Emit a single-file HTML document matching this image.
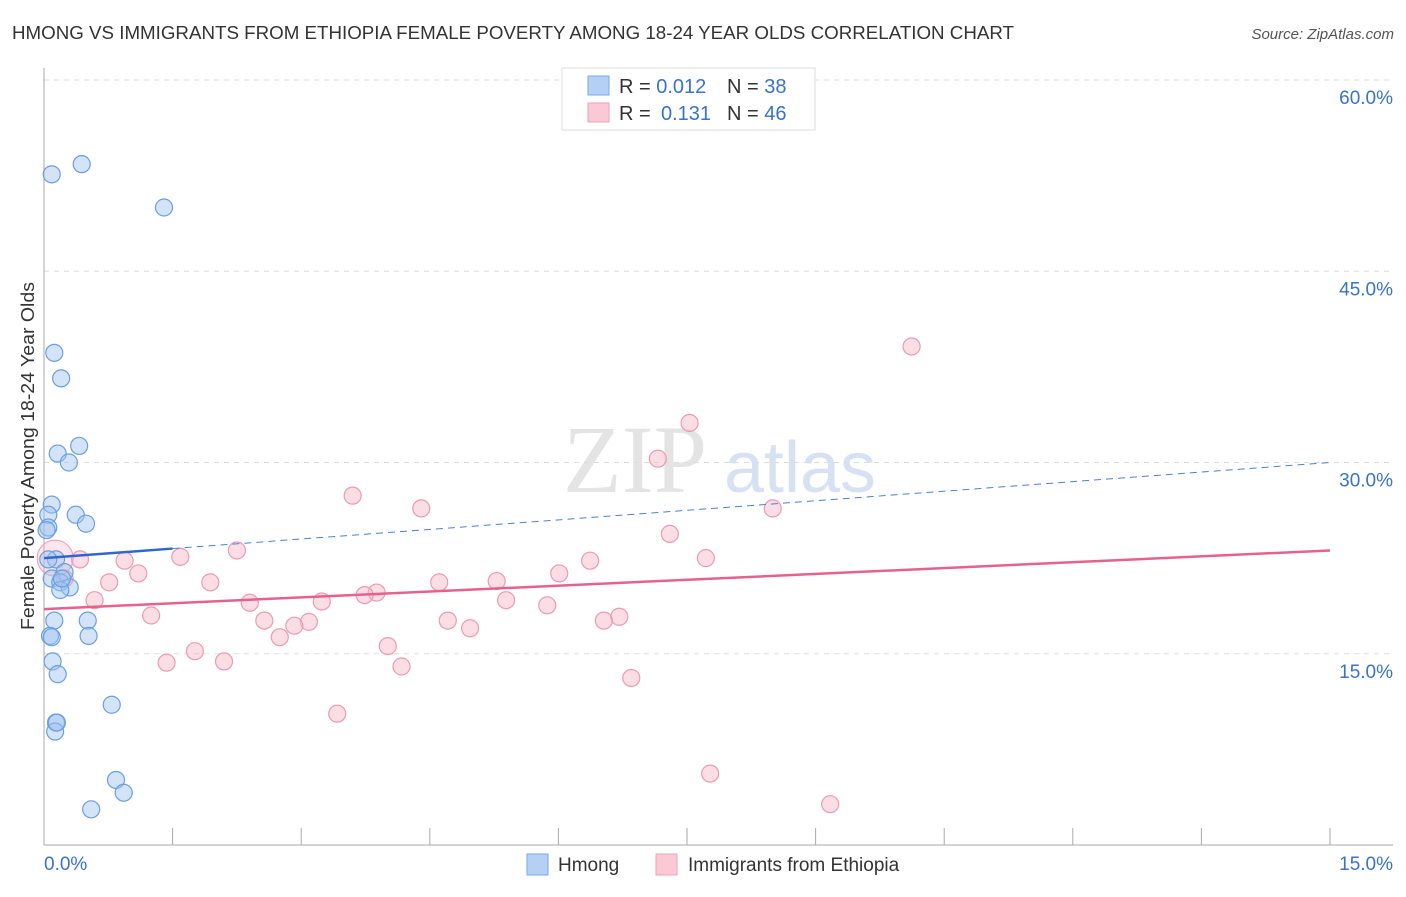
<!DOCTYPE html>
<html><head><meta charset="utf-8"><style>
body{margin:0;background:#fff;font-family:"Liberation Sans",sans-serif;}
</style></head><body>
<svg id="c" width="1406" height="892" xmlns="http://www.w3.org/2000/svg">
<text x="12" y="39" font-size="18" fill="#333" textLength="1002" lengthAdjust="spacingAndGlyphs">HMONG VS IMMIGRANTS FROM ETHIOPIA FEMALE POVERTY AMONG 18-24 YEAR OLDS CORRELATION CHART</text>
<text x="1394" y="39" font-size="15" fill="#555" font-style="italic" text-anchor="end">Source: ZipAtlas.com</text>
<text x="635" y="492" font-size="96" fill="#e4e4e4" font-family="Liberation Serif,serif" text-anchor="middle">ZIP</text>
<text x="800" y="492" font-size="72" fill="#d6e2f4" text-anchor="middle">atlas</text>
<text transform="translate(34,456) rotate(-90)" font-size="18" fill="#333" text-anchor="middle" textLength="348" lengthAdjust="spacingAndGlyphs">Female Poverty Among 18-24 Year Olds</text>
<g id="grid"></g><g id="marks"></g>
<g>
<rect x="562" y="68" width="253" height="62" fill="#fff" stroke="#ddd"/>
<rect x="588" y="76" width="21" height="19" fill="#b5d0f5" stroke="#7aa8e8"/>
<rect x="588" y="103" width="21" height="19" fill="#fbc8d6" stroke="#f0a0b8"/>
<text x="619" y="93" font-size="20" fill="#333">R = <tspan fill="#3a72cc">0.012</tspan><tspan x="727">N = </tspan><tspan fill="#3a72cc">38</tspan></text>
<text x="619" y="120" font-size="20" fill="#333">R = <tspan x="661" fill="#3a72cc">0.131</tspan><tspan x="727">N = </tspan><tspan fill="#3a72cc">46</tspan></text>
</g>
<g>
<rect x="527" y="854" width="21" height="21" fill="#b5d0f5" stroke="#7aa8e8"/>
<text x="558" y="871" font-size="19" fill="#333">Hmong</text>
<rect x="656" y="854" width="21" height="21" fill="#fbc8d6" stroke="#f0a0b8"/>
<text x="688" y="871" font-size="19" fill="#333">Immigrants from Ethiopia</text>
</g>
</svg>
<script>
const blueX=[.09,.44,1.40,.12,.20,.16,.41,.29,.09,.05,.37,.05,.49,.14,.24,.09,.19,.30,.19,.12,.51,.07,.52,.10,.16,.79,.14,.13,.84,.93,.55,.05,.21,.03,.09,.15];
const blueY=[52.6,53.4,50.0,38.6,36.6,30.7,31.3,30.0,26.7,25.9,25.9,24.9,25.2,22.4,21.4,20.9,20.6,20.2,20.0,17.6,17.6,16.4,16.4,14.4,13.4,11.0,9.6,8.9,5.1,4.1,2.8,22.4,20.9,24.7,16.3,9.6];
const pinkX=[10.12,7.53,7.16,3.60,4.40,8.50,7.30,2.25,1.59,7.72,6.37,.94,.42,1.10,6.01,.76,1.94,4.61,5.28,3.88,3.74,3.24,5.39,.59,2.40,5.87,1.25,6.71,6.53,4.71,2.57,3.09,2.92,4.97,2.75,4.01,1.76,1.43,2.10,4.17,6.85,3.42,7.77,9.17,.24];
const pinkY=[39.1,33.1,30.3,27.4,26.4,26.4,24.4,23.1,22.6,22.5,22.3,22.3,22.4,21.3,21.3,20.6,20.6,20.6,20.7,19.8,19.6,19.1,19.2,19.2,19.0,18.8,18.0,17.9,17.6,17.6,17.6,17.5,17.2,17.0,16.3,15.6,15.2,14.3,14.4,14.0,13.1,10.3,5.6,3.2,20.9];
const blueTrend=[22.5,30.0];
const pinkTrend=[18.5,23.1];
const yTicks=[15,30,45,60];
const xTickVals=[0,1.5,3,4.5,6,7.5,9,10.5,12,13.5,15];
const NS='http://www.w3.org/2000/svg';
const sx=v=>44+v/15*1286, sy=v=>845-v/15*191.25;
function mk(tag,attrs,parent){const e=document.createElementNS(NS,tag);for(const k in attrs)e.setAttribute(k,attrs[k]);parent.appendChild(e);return e;}
const grid=document.getElementById('grid'), marks=document.getElementById('marks');
yTicks.forEach(t=>{
 const l=mk('line',{x1:44,x2:1393,y1:sy(t),y2:sy(t),stroke:'#ddd','stroke-dasharray':'5,5'},grid);
 
 
 const tx=mk('text',{x:1393,y:sy(t)+24,'font-size':19,fill:'#3a72cc','text-anchor':'end'},grid);
 tx.textContent=t.toFixed(1)+'%';
 
 
});
mk('line',{x1:44,x2:44,y1:68,y2:845,stroke:'#aaa'},grid);
mk('line',{x1:44,x2:1393,y1:845,y2:845,stroke:'#aaa'},grid);
xTickVals.forEach(t=>{const l=mk('line',{x1:sx(t),x2:sx(t),y1:828,y2:845,stroke:'#aaa'},grid);
 
 });
const x0=mk('text',{x:44,y:870,'font-size':19,fill:'#3a72cc'},grid);x0.textContent='0.0%';


const x1=mk('text',{x:1393,y:870,'font-size':19,fill:'#3a72cc','text-anchor':'end'},grid);x1.textContent='15.0%';


pinkX.forEach((v,i)=>{const c=mk('circle',{cx:sx(v),cy:sy(pinkY[i]),r:8.5,fill:'rgba(246,180,200,0.45)',stroke:'#eb9bb4','stroke-width':1.2},marks);
 
 });
const bc=mk('circle',{cx:sx(.13),cy:sy(22.5),r:18,fill:'rgba(246,180,200,0.35)',stroke:'#eb9bb4'},marks);


blueX.forEach((v,i)=>{const c=mk('circle',{cx:sx(v),cy:sy(blueY[i]),r:8.5,fill:'rgba(160,196,240,0.45)',stroke:'#6a9fe0','stroke-width':1.2},marks);
 
 });
const pl=mk('line',{x1:sx(0),y1:sy(pinkTrend[0]),x2:sx(15),y2:sy(pinkTrend[1]),stroke:'#e8608c','stroke-width':2.5},marks);


const by=v=>blueTrend[0]+(blueTrend[1]-blueTrend[0])*v/15;
const bd=mk('line',{x1:sx(1.5),y1:sy(by(1.5)),x2:sx(15),y2:sy(blueTrend[1]),stroke:'#4a82d0','stroke-width':1,'stroke-dasharray':'7,5'},marks);


const bs=mk('line',{x1:sx(0),y1:sy(blueTrend[0]),x2:sx(1.5),y2:sy(by(1.5)),stroke:'#2a6ad0','stroke-width':2.5},marks);


</script>
</body></html>
